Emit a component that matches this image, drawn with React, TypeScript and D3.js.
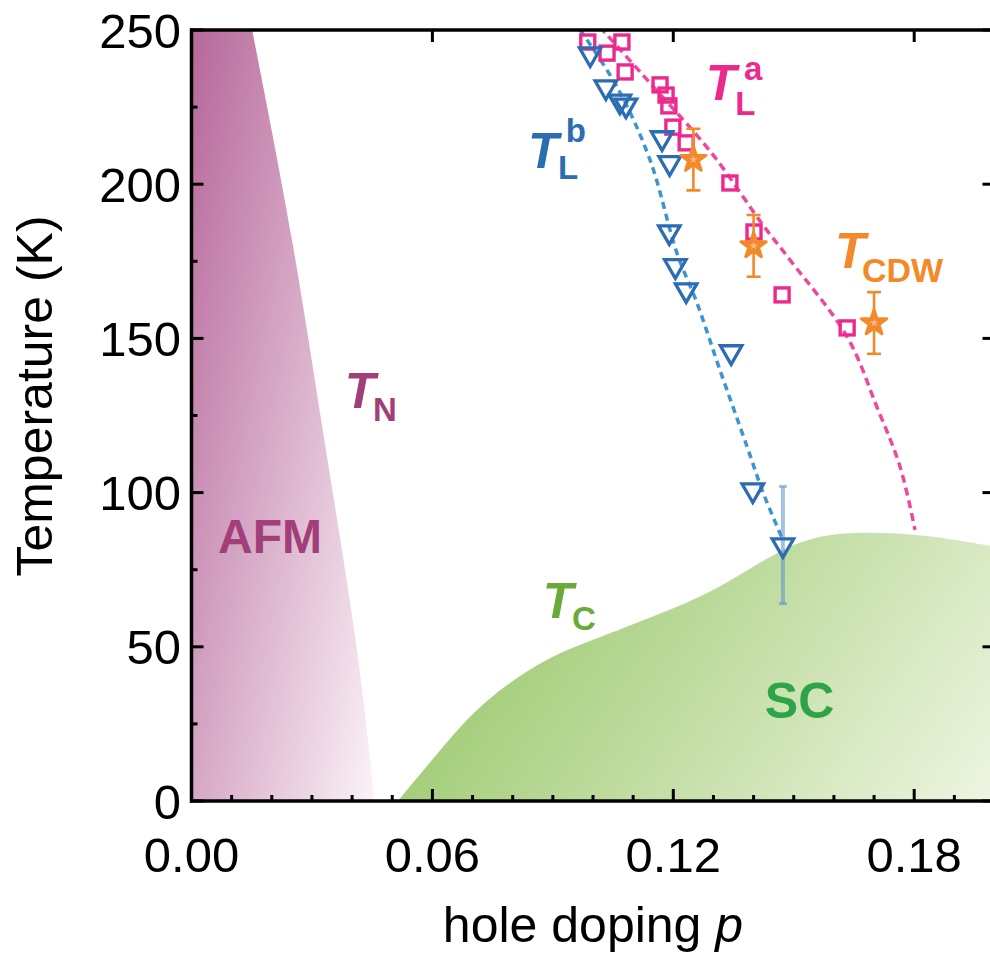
import React from 'react';
import * as d3 from 'd3';

const W = 990;
const H = 957;
const FONT = '"Liberation Sans", Arial, Helvetica, sans-serif';

// Néel boundary of the antiferromagnetic region (T_N)
const afmT = [250, 179, 119, 49, 0];
const afmP = [0.0151, 0.0258, 0.0327, 0.0417, 0.0455];

// Superconducting dome (T_c)
const scP = [0.0514, 0.0619, 0.0726, 0.0893, 0.1017, 0.1142, 0.1308, 0.147, 0.16, 0.1807, 0.2];
const scT = [0, 16.5, 32.7, 47.3, 53, 59.5, 68, 82.4, 87.5, 86.9, 82.5];

// T_L^b (open down-triangles)
const tlbP = [0.0993, 0.1032, 0.1067, 0.1082, 0.1172, 0.1191, 0.119, 0.1205, 0.1232, 0.1344, 0.1398, 0.1473];
const tlbT = [242.2, 231.5, 226.9, 225.6, 215, 206.9, 184.5, 173.5, 165.7, 145.6, 100.8, 83];
const tlbErrIndex = 11;
const tlbErr = 19;

// T_L^a (open squares)
const tlaP = [0.0987, 0.1035, 0.1072, 0.108, 0.1167, 0.1182, 0.1189, 0.1199, 0.1232, 0.1341, 0.1401, 0.1471, 0.1633];
const tlaT = [246.1, 242.5, 246.1, 236.4, 232.2, 228.9, 225.4, 218.5, 213.4, 200.4, 184.5, 164.1, 153.4];

// T_CDW (stars with error bars)
const cdwP = [0.125, 0.14, 0.17];
const cdwT = [208, 180, 155];
const cdwErr = [10, 10, 10];

// Guide-to-the-eye curves
const guideBP = [0.0968, 0.106, 0.1142, 0.1209, 0.1259, 0.1316, 0.1384, 0.1424, 0.1473];
const guideBT = [250, 231.5, 207.9, 177.7, 161.5, 139.8, 114.8, 99.9, 84.6];
const guideAP = [0.1017, 0.1142, 0.1296, 0.1423, 0.1491, 0.1633, 0.1707, 0.1765, 0.1802];
const guideAT = [251, 232.8, 210, 186.8, 175.4, 150.5, 127.8, 108.3, 87.9];

// Axes
const xMajor = [0, 0.06, 0.12, 0.18];
const xMinor = d3.range(0, 0.2001, 0.01);
const yMajor = [0, 50, 100, 150, 200, 250];
const yMinor = d3.range(0, 251, 25);

const C_AFM = '#a23f78';
const C_BLUE = '#2b6cb3';
const C_BLUE_LINE = '#3c94d0';
const C_PINK = '#ec2a8e';
const C_PINK_LINE = '#f0479c';
const C_ORANGE = '#f4892a';
const C_TC = '#6aaa3c';
const C_SC = '#2ea448';

export default function App() {
  const x = d3.scaleLinear().domain([0, 0.2]).range([191.5, 994.5]);
  const y = d3.scaleLinear().domain([0, 250]).range([801, 30]);
  const [x0, x1] = x.range();
  const [yb, yt] = y.range();

  const afmPts: [number, number][] = afmP.map((p, i) => [p, afmT[i]]);
  const afmArea = d3
    .area<[number, number]>()
    .y((d) => y(d[1]))
    .x0(x(0))
    .x1((d) => x(d[0]))
    .curve(d3.curveBasis)(afmPts) as string;

  const scPts: [number, number][] = scP.map((p, i) => [p, scT[i]]);
  const scArea = d3
    .area<[number, number]>()
    .x((d) => x(d[0]))
    .y0(y(0))
    .y1((d) => y(d[1]))
    .curve(d3.curveBasis)(scPts) as string;

  const line = d3
    .line<[number, number]>()
    .x((d) => x(d[0]))
    .y((d) => y(d[1]))
    .curve(d3.curveCatmullRom);
  const guideB = line(guideBP.map((p, i) => [p, guideBT[i]])) as string;
  const guideA = line(guideAP.map((p, i) => [p, guideAT[i]])) as string;

  const tri = d3.symbol(d3.symbolTriangle, 200)() as string;
  const starOuter = d3.symbol(d3.symbolStar, 200)() as string;
  const starInner = d3.symbol(d3.symbolStar, 22)() as string;
  const sq = 14;

  const text = (
    key: string,
    px: number,
    py: number,
    s: string,
    size: number,
    color: string,
    italic = false
  ) => (
    <text
      key={key}
      x={px}
      y={py}
      fontFamily={FONT}
      fontSize={size}
      fontWeight="bold"
      fontStyle={italic ? 'italic' : 'normal'}
      fill={color}
    >
      {s}
    </text>
  );

  return (
    <svg
      width={W}
      height={H}
      viewBox={`0 0 ${W} ${H}`}
      style={{ position: 'absolute', left: 0, top: 0, background: '#fff' }}
    >
      <defs>
        <clipPath id="plotClip">
          <rect x={x0} y={yt} width={x1 - x0} height={yb - yt} />
        </clipPath>
        <linearGradient
          id="afmGrad"
          gradientUnits="userSpaceOnUse"
          x1={x0}
          y1={yt}
          x2={x0 + 333}
          y2={yt + 67}
        >
          <stop offset="0" stopColor="#b6679a" />
          <stop offset="1" stopColor="#fdf6fa" />
        </linearGradient>
        <linearGradient
          id="scGrad"
          gradientUnits="userSpaceOnUse"
          x1={x(0.1)}
          y1={y(90)}
          x2={x(0.2)}
          y2={y(0)}
        >
          <stop offset="0" stopColor="#a6ce7c" />
          <stop offset="1" stopColor="#eef5e2" />
        </linearGradient>
      </defs>

      <g clipPath="url(#plotClip)">
        <path d={afmArea} fill="url(#afmGrad)" />
        <path d={scArea} fill="url(#scGrad)" />

        <path d={guideB} fill="none" stroke={C_BLUE_LINE} strokeWidth={3.5} strokeDasharray="7 5" />
        <path d={guideA} fill="none" stroke={C_PINK_LINE} strokeWidth={3.5} strokeDasharray="8 5" />

        {/* error bar on the last T_L^b point */}
        <g stroke="#5b8fcc" strokeOpacity={0.55} strokeWidth={4}>
          <line
            x1={x(tlbP[tlbErrIndex])}
            x2={x(tlbP[tlbErrIndex])}
            y1={y(tlbT[tlbErrIndex] + tlbErr)}
            y2={y(tlbT[tlbErrIndex] - tlbErr)}
          />
          {[1, -1].map((s) => (
            <line
              key={s}
              x1={x(tlbP[tlbErrIndex]) - 4}
              x2={x(tlbP[tlbErrIndex]) + 4}
              y1={y(tlbT[tlbErrIndex] + s * tlbErr)}
              y2={y(tlbT[tlbErrIndex] + s * tlbErr)}
              strokeWidth={3}
            />
          ))}
        </g>

        {tlaP.map((p, i) => (
          <rect
            key={`a${i}`}
            x={x(p) - sq / 2}
            y={y(tlaT[i]) - sq / 2}
            width={sq}
            height={sq}
            fill="none"
            stroke={C_PINK}
            strokeWidth={3.4}
          />
        ))}

        {tlbP.map((p, i) => (
          <path
            key={`b${i}`}
            d={tri}
            transform={`translate(${x(p)},${y(tlbT[i])}) rotate(180)`}
            fill="none"
            stroke={C_BLUE}
            strokeWidth={3.3}
            strokeLinejoin="miter"
          />
        ))}

        {cdwP.map((p, i) => {
          const cx = x(p);
          const top = y(cdwT[i] + cdwErr[i]);
          const bot = y(cdwT[i] - cdwErr[i]);
          return (
            <g key={`c${i}`}>
              <g stroke={C_ORANGE} strokeWidth={2.6}>
                <line x1={cx} x2={cx} y1={top} y2={bot} />
                <line x1={cx - 7} x2={cx + 7} y1={top} y2={top} />
                <line x1={cx - 7} x2={cx + 7} y1={bot} y2={bot} />
              </g>
              <path
                d={starOuter}
                transform={`translate(${cx},${y(cdwT[i])})`}
                fill={C_ORANGE}
                stroke={C_ORANGE}
                strokeWidth={3}
                strokeLinejoin="round"
              />
              <path d={starInner} transform={`translate(${cx},${y(cdwT[i])})`} fill="#f9b98a" />
            </g>
          );
        })}
      </g>

      {/* phase labels */}
      {text('tn', x(0.0382), y(127.4), 'T', 50, C_AFM, true)}
      {text('tn2', x(0.0452), y(123.2), 'N', 33, C_AFM)}
      {text('afm', x(0.0066), y(80.4), 'AFM', 48, C_AFM)}

      {text('tb', x(0.0838), y(205.2), 'T', 50, C_BLUE, true)}
      {text('tb2', x(0.0913), y(201.6), 'L', 33, C_BLUE)}
      {text('tb3', x(0.0932), y(213.7), 'b', 33, C_BLUE)}

      {text('ta', x(0.1281), y(227.3), 'T', 50, C_PINK, true)}
      {text('ta2', x(0.1354), y(222.4), 'L', 33, C_PINK)}
      {text('ta3', x(0.1376), y(233.8), 'a', 33, C_PINK)}

      {text('tc', x(0.1603), y(172.8), 'T', 50, C_ORANGE, true)}
      {text('tc2', x(0.1670), y(168.3), 'CDW', 34, C_ORANGE)}

      {text('tcc', x(0.0875), y(59.3), 'T', 50, C_TC, true)}
      {text('tcc2', x(0.0948), y(55.4), 'C', 33, C_TC)}

      {text('sc', x(0.1428), y(26.9), 'SC', 50, C_SC)}

      {/* axes frame */}
      <g stroke="#000" fill="none">
        <line x1={x0} x2={x0} y1={yt - 1.5} y2={yb + 1.5} strokeWidth={3.5} />
        <line x1={x0 - 1.5} x2={x1} y1={yb} y2={yb} strokeWidth={3.5} />
        <line x1={x0 - 1.5} x2={x1} y1={yt} y2={yt} strokeWidth={3.5} />
        <line x1={x1} x2={x1} y1={yt} y2={yb} strokeWidth={3.5} />

        {xMinor.map((v) => {
          const major = xMajor.some((m) => Math.abs(m - v) < 1e-6);
          return (
            <line key={`xb${v}`} x1={x(v)} x2={x(v)} y1={yb} y2={yb - (major ? 12 : 6)} strokeWidth={3} />
          );
        })}
        {xMajor.map((v) => (
          <line key={`xt${v}`} x1={x(v)} x2={x(v)} y1={yt} y2={yt + 12} strokeWidth={3} />
        ))}
        {yMinor.map((v) => {
          const major = yMajor.includes(v);
          return (
            <line key={`yl${v}`} x1={x0} x2={x0 + (major ? 12 : 6)} y1={y(v)} y2={y(v)} strokeWidth={3} />
          );
        })}
        {yMajor.map((v) => (
          <line key={`yr${v}`} x1={x1} x2={x1 - 12} y1={y(v)} y2={y(v)} strokeWidth={3} />
        ))}
      </g>

      <g fontFamily={FONT} fontSize={49} fill="#000">
        {yMajor.map((v) => (
          <text key={`yl${v}`} x={181} y={y(v)} dy="0.36em" textAnchor="end">
            {v}
          </text>
        ))}
        {xMajor.map((v) => (
          <text key={`xl${v}`} x={x(v)} y={872} textAnchor="middle">
            {v.toFixed(2)}
          </text>
        ))}
      </g>

      <text
        transform="translate(52, 396) rotate(-90)"
        textAnchor="middle"
        fontFamily={FONT}
        fontSize={50}
        fill="#000"
      >
        Temperature (K)
      </text>
      <text x={(x0 + x1) / 2} y={942} textAnchor="middle" fontFamily={FONT} fontSize={50} fill="#000">
        hole doping <tspan fontStyle="italic">p</tspan>
      </text>
    </svg>
  );
}
